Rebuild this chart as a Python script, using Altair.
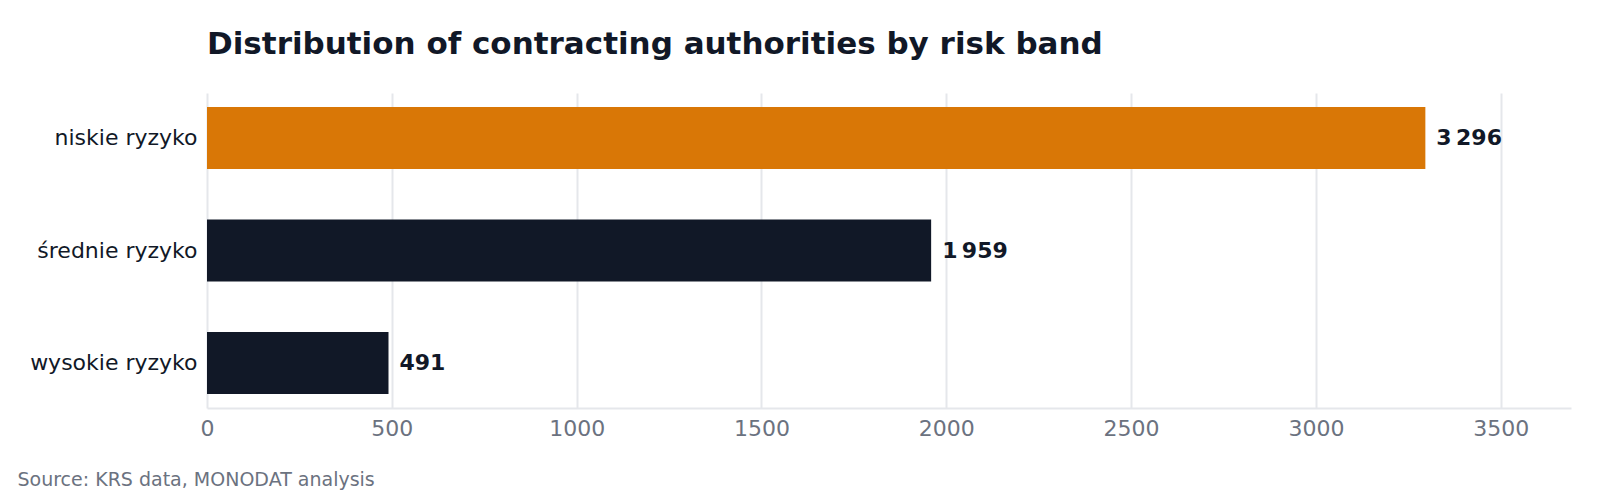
import altair as alt
import pandas as pd

# data
bands = ["niskie ryzyko", "średnie ryzyko", "wysokie ryzyko"]
counts = [3296, 1959, 491]
bar_colors = ["#d97706", "#111827", "#111827"]

df = pd.DataFrame({
    "band": bands,
    "count": counts,
    "color": bar_colors,
    "label": [f"{c:,}".replace(",", "\u202f") for c in counts],
})

FONT = "DejaVu Sans"

y_enc = alt.Y("band:N", sort=bands, title=None,
              scale=alt.Scale(paddingInner=0.45, paddingOuter=0.125),
              axis=alt.Axis(domain=False, ticks=False, grid=False, labelPadding=10,
                            labelFontSize=22, labelColor="#111827", labelFont=FONT))

x_enc = alt.X("count:Q", scale=alt.Scale(domain=[0, 3690], nice=False),
              title="Source: KRS data, MONODAT analysis",
              axis=alt.Axis(values=[0, 500, 1000, 1500, 2000, 2500, 3000, 3500],
                            format="d", labelFlush=False,
                            ticks=False, labelPadding=10, labelFontSize=22,
                            labelColor="#6b7280", labelFont=FONT,
                            domainColor="#e5e7eb", domainWidth=2,
                            gridColor="#e5e7eb", gridWidth=2,
                            titleAnchor="start", titleAlign="left", titleX=-190, titleY=77,
                            titleBaseline="alphabetic", titleFontSize=19,
                            titleFontWeight="normal", titleColor="#6b7280", titleFont=FONT))

bars = alt.Chart(df).mark_bar().encode(
    x=x_enc,
    y=y_enc,
    color=alt.Color("color:N", scale=None),
)

labels = alt.Chart(df).mark_text(
    align="left", baseline="middle", dx=11, fontSize=22, fontWeight="bold",
    color="#111827", font=FONT
).encode(
    x="count:Q",
    y=alt.Y("band:N", sort=bands),
    text="label:N",
)

chart = (bars + labels).properties(
    width=1364,
    height=315,
    autosize=alt.AutoSizeParams(type="none"),
    padding={"left": 199, "top": 85, "right": 21, "bottom": 82},
    title=alt.TitleParams("Distribution of contracting authorities by risk band",
                          anchor="start", frame="group", fontSize=31, fontWeight="bold",
                          color="#111827", font=FONT, offset=32),
).configure_view(stroke=None)

chart.save("out.html", embed_options={"renderer": "svg", "actions": False})
